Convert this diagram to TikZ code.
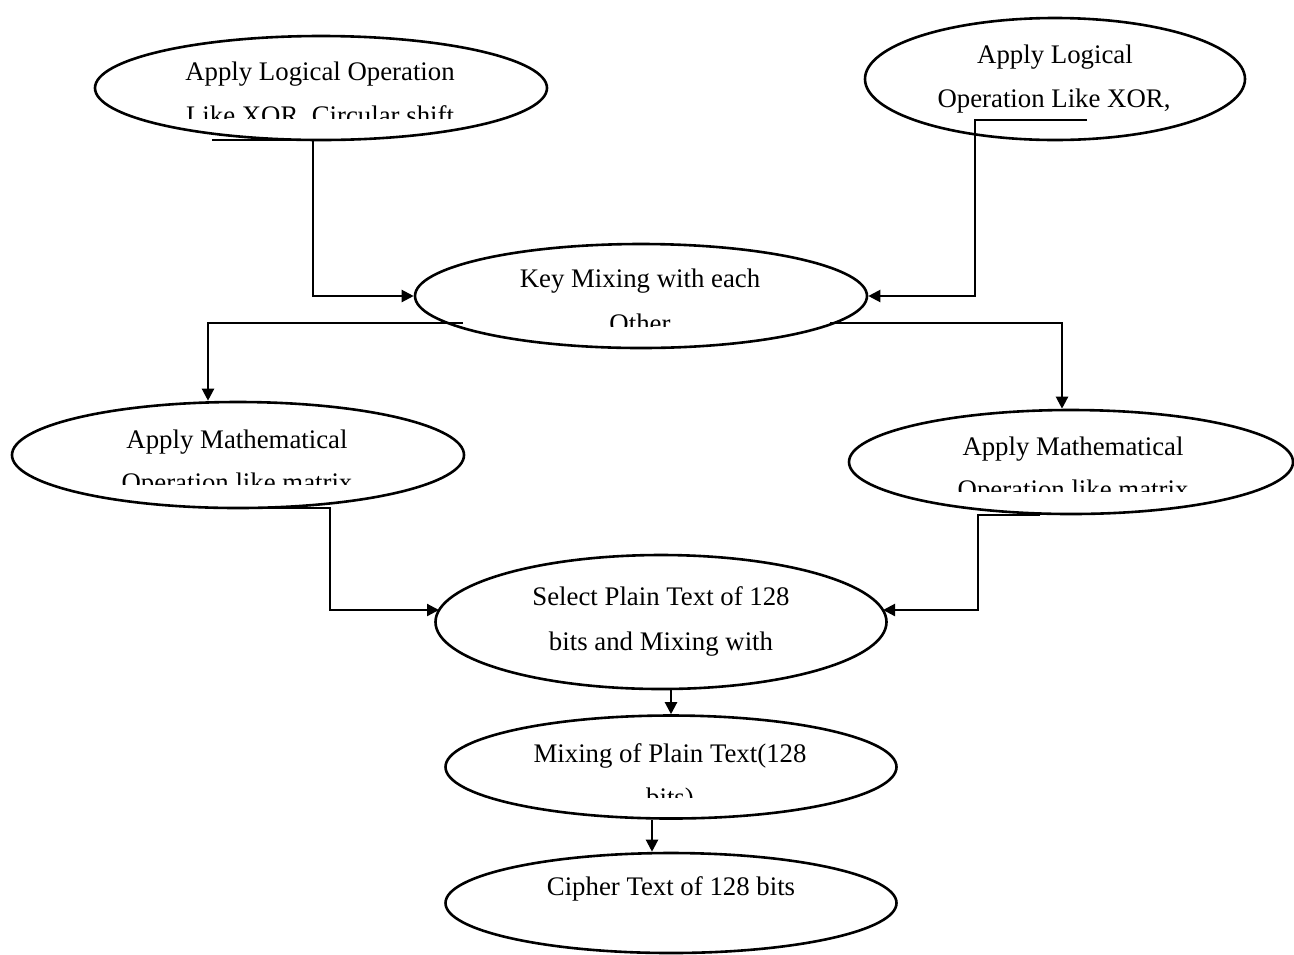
\documentclass[tikz,border=0pt]{standalone}
\usepackage{fontspec}
\setmainfont{Liberation Serif}
\usetikzlibrary{shapes.geometric,arrows.meta,calc}
\begin{document}
\begin{tikzpicture}[x=0.5pt,y=-0.5pt,
  oval/.style={draw, ellipse, line width=1.3pt, inner sep=0pt},
  lbl/.style={anchor=base, inner sep=0pt, font=\fontsize{13.4}{16}\selectfont},
  conn/.style={line width=1.1pt},
  arr/.style={conn, -{Triangle[length=6pt,width=6pt]}}]

% ellipses
\node[oval, minimum width=226pt, minimum height=52pt] (t1) at (321,88) {};
\node[oval, minimum width=190pt, minimum height=61pt] (t2) at (1055,79) {};
\node[oval, minimum width=226pt, minimum height=52pt] (k) at (641,296) {};
\node[oval, minimum width=226pt, minimum height=53pt] (m1) at (238,455) {};
\node[oval, minimum width=222pt, minimum height=52pt] (m2) at (1071,462) {};
\node[oval, minimum width=225.5pt, minimum height=67pt] (s) at (661,622) {};
\node[oval, minimum width=225.5pt, minimum height=51.5pt] (p) at (671,767) {};
\node[oval, minimum width=225.5pt, minimum height=50pt] (c) at (671,903) {};

% texts
\node[lbl] (t1a) at (320,80) {Apply Logical Operation};
\begin{scope}
  \clip (150,95) rectangle (500,118);
  \node[lbl] (t1b) at (320,124) {Like XOR, Circular shift};
\end{scope}
\node[lbl] (t2a) at (1055,63) {Apply Logical};
\node[lbl] (t2b) at (1054,107) {Operation Like XOR,};
\node[lbl] (ka) at (640,287) {Key Mixing with each};
\begin{scope}
  \clip (500,300) rectangle (800,326);
  \node[lbl] (kb) at (640,332) {Other};
\end{scope}
\node[lbl] (m1a) at (237,448) {Apply Mathematical};
\begin{scope}
  \clip (60,460) rectangle (420,484);
  \node[lbl] (m1b) at (237,491) {Operation like matrix};
\end{scope}
\node[lbl] (m2a) at (1073,455) {Apply Mathematical};
\begin{scope}
  \clip (900,468) rectangle (1250,491);
  \node[lbl] (m2b) at (1073,498) {Operation like matrix};
\end{scope}
\node[lbl] (sa) at (661,605) {Select Plain Text of 128};
\node[lbl] (sb) at (661,650) {bits and Mixing with};
\node[lbl] (pa) at (670,762) {Mixing of Plain Text(128};
\begin{scope}
  \clip (500,775) rectangle (850,797);
  \node[lbl] (pb) at (670,806) {bits)};
\end{scope}
\node[lbl] (ca) at (671,895) {Cipher Text of 128 bits};

% connectors
\coordinate (a1) at (212,140); \coordinate (b1) at (313,140);
\draw[arr] (a1) -- (b1) |- (k.west);
\coordinate (a2) at (1087,120); \coordinate (b2) at (975,120);
\draw[arr] (a2) -- (b2) |- (k.east);
\coordinate (a3) at (463,323);
\draw[arr] (a3) -| ($(m1.north)+(-30,0)$);
\coordinate (a4) at (830,323);
\draw[arr] (a4) -| ($(m2.north)+(-9,0)$);
\coordinate (a5) at (233,508); \coordinate (b5) at (330,508);
\draw[arr] (a5) -- (b5) |- ($(s.center)+(-222,-12)$);
\coordinate (a6) at (1040,515); \coordinate (b6) at (978,515);
\draw[arr] (a6) -- (b6) |- ($(s.center)+(222,-12)$);
\draw[arr] (s.south -| p.north) -- (p.north);
\draw[arr] ($(p.south)+(-19,0)$) -- ($(c.north)+(-19,0)$);

\pgfresetboundingbox
\useasboundingbox (0,0) rectangle (1294,954);
\end{tikzpicture}
\end{document}
